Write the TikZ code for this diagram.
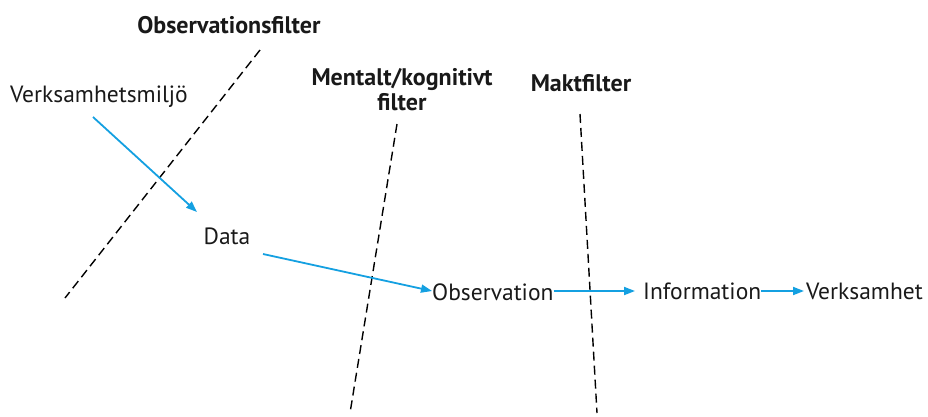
\documentclass[tikz,border=0pt]{standalone}
\usepackage{fontspec}
\setmainfont{PT Sans}
\usetikzlibrary{arrows.meta}
\definecolor{flowblue}{RGB}{20,160,225}
\tikzset{
  lbl/.style={font=\fontsize{23.5}{26}\selectfont, inner sep=0pt, text=black!90},
  flbl/.style={font=\bfseries\fontsize{24}{25}\selectfont, inner sep=0pt, align=center, text=black!90},
  flow/.style={draw=flowblue, line width=1.8pt, -{Triangle[length=11pt,width=8pt]}},
  filterline/.style={draw=black, line width=1.4pt, dash pattern=on 9pt off 5pt}
}
\begin{document}
\begin{tikzpicture}[x=1pt,y=-1pt]
\useasboundingbox (0,0) rectangle (928,416);
% labels
\node[flbl] (of) at (229,25) {Observationsfilter};
\node[flbl] (mf) at (402,90) {Mentalt/kognitivt\\filter};
\node[flbl] (mk) at (581,83) {Maktfilter};
% filter lines
\draw[filterline] (260,50) -- (65,298);
\draw[filterline] (397,124) -- (350,413);
\draw[filterline] (580,114) -- (597,413);
% nodes
\node[lbl, anchor=west] (vm) at (10,97) {Verksamhetsmiljö};
\node[lbl] (data) at (227,236) {Data};
\node[lbl, anchor=west] (obs) at (432,292) {Observation};
\node[lbl, anchor=west] (inf) at (643,291) {Information};
\node[lbl, anchor=west] (vh) at (806,291) {Verksamhet};
% arrow ends
\coordinate (a1s) at (93,117);
\coordinate (a1e) at (197,212);
\coordinate (a2s) at (263,254);
% arrows
\draw[flow] (a1s) -- (a1e);
\draw[flow] (a2s) -- ([yshift=1pt]obs.west);
\draw[flow] ([yshift=1pt]obs.east) -- ([xshift=-8pt,yshift=1pt]obs.east -| inf.west);
\draw[flow] (inf.east) -- ([xshift=-2pt]vh.west);
\end{tikzpicture}
\end{document}
